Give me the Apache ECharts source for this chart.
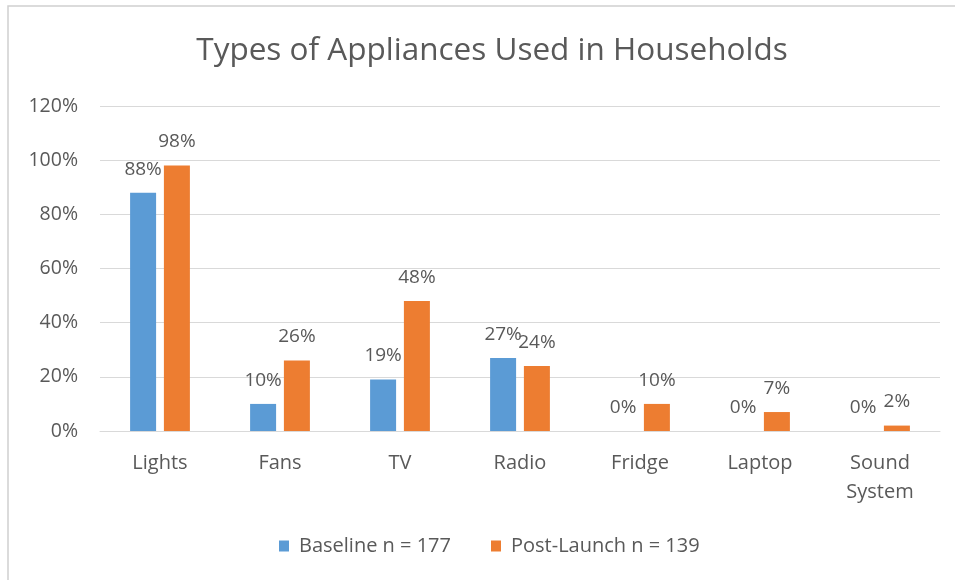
<!DOCTYPE html>
<html>
<head>
<meta charset="utf-8">
<title>Types of Appliances Used in Households</title>
<script src="https://cdn.jsdelivr.net/npm/echarts@6/dist/echarts.min.js"></script>
<style>
  html, body { margin: 0; padding: 0; background: #ffffff; }
  #chart { width: 955px; height: 580px; }
</style>
</head>
<body>
<div id="chart"></div>
<script>
// Appliance categories on the x axis
var categories = ['Lights', 'Fans', 'TV', 'Radio', 'Fridge', 'Laptop', 'Sound\nSystem'];

// Share of households (%) using each appliance
var baselineValues = [88, 10, 19, 27, 0, 0, 0];
var postLaunchValues = [98, 26, 48, 24, 10, 7, 2];

// Series names shown in the legend
var seriesNames = ['Baseline n = 177', 'Post-Launch n = 139'];

// Value axis range and step (percent)
var yMin = 0;
var yMax = 120;
var yStep = 20;

var textColor = '#595959';
var gridColor = '#d9d9d9';
var fontFamily = '"Open Sans", "Noto Sans", sans-serif';

var chart = echarts.init(document.getElementById('chart'), null, { renderer: 'canvas' });

function barSeries(name, values, color) {
  return {
    name: name,
    type: 'bar',
    data: values,
    barWidth: 26,
    barGap: '30%',
    itemStyle: { color: color },
    label: {
      show: true,
      position: 'top',
      distance: 14,
      color: textColor,
      fontFamily: fontFamily,
      fontSize: 19,
      formatter: '{c}%'
    }
  };
}

chart.setOption({
  animation: false,
  backgroundColor: '#ffffff',
  graphic: [{
    type: 'rect',
    shape: { x: 8, y: 6, width: 1000, height: 620 },
    style: { fill: 'none', stroke: '#d0d0d0', lineWidth: 1.5 },
    silent: true,
    z: -1
  }],
  title: {
    text: 'Types of Appliances Used in Households',
    left: 487,
    top: 30,
    textAlign: 'center',
    textStyle: {
      color: textColor,
      fontFamily: fontFamily,
      fontSize: 31.5,
      fontWeight: 'normal'
    }
  },
  legend: {
    data: seriesNames,
    bottom: 19,
    left: 274,
    icon: 'rect',
    itemWidth: 10,
    itemHeight: 11,
    itemGap: 40,
    textStyle: {
      color: textColor,
      fontFamily: fontFamily,
      fontSize: 20,
      padding: [0, 0, 0, 5]
    }
  },
  grid: {
    left: 100,
    right: 15,
    top: 106,
    bottom: 149,
    containLabel: false
  },
  xAxis: {
    type: 'category',
    data: categories,
    axisTick: { show: false },
    axisLine: { lineStyle: { color: gridColor, width: 1 } },
    axisLabel: {
      color: textColor,
      fontFamily: fontFamily,
      fontSize: 20,
      lineHeight: 29,
      margin: 18,
      interval: 0
    }
  },
  yAxis: {
    type: 'value',
    min: yMin,
    max: yMax,
    interval: yStep,
    axisLine: { show: false },
    axisTick: { show: false },
    splitLine: { lineStyle: { color: gridColor, width: 1 } },
    axisLabel: {
      color: textColor,
      fontFamily: fontFamily,
      fontSize: 19.5,
      margin: 22,
      formatter: '{value}%'
    }
  },
  series: [
    barSeries(seriesNames[0], baselineValues, '#5b9bd5'),
    barSeries(seriesNames[1], postLaunchValues, '#ed7d31')
  ]
});
</script>
</body>
</html>
